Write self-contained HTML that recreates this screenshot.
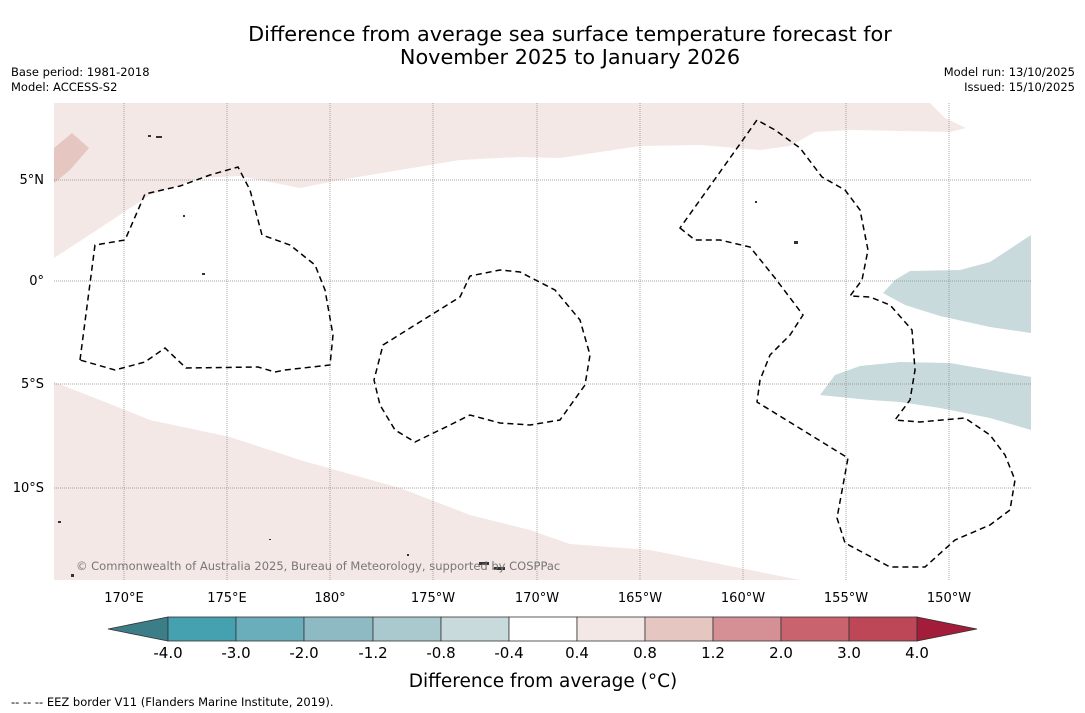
<!DOCTYPE html>
<html><head><meta charset="utf-8"><style>
body{margin:0;background:#fff;font-family:"DejaVu Sans","Liberation Sans",sans-serif}
svg{display:block}
</style></head><body>
<svg width="1085" height="713" viewBox="0 0 1085 713" xmlns="http://www.w3.org/2000/svg">
<text x="570" y="41" text-anchor="middle" font-size="20.8">Difference from average sea surface temperature forecast for</text>
<text x="570" y="64" text-anchor="middle" font-size="20.8">November 2025 to January 2026</text>
<text x="11" y="76" font-size="11.5">Base period: 1981-2018</text>
<text x="11" y="91" font-size="11.5">Model: ACCESS-S2</text>
<text x="1075" y="76" font-size="11.5" text-anchor="end">Model run: 13/10/2025</text>
<text x="1075" y="91" font-size="11.5" text-anchor="end">Issued: 15/10/2025</text>

<g>
<rect x="54" y="103" width="977" height="477" fill="#fff"/>
<path fill="#f4e8e6" d="M54,103 L930,103 L945,118 L966,128 L950,132 L850,130 L815,132 L790,146 L760,150 L700,145 L640,146 L600,152 L560,158 L520,157 L460,160 L400,170 L340,180 L300,188 L240,176 L200,178 L150,195 L100,228 L54,258 Z"/>
<path fill="#e5c6c1" d="M54,148 L72,133 L89,148 L70,170 L54,183 Z"/>
<path fill="#f4e8e6" d="M54,382 L100,400 L150,420 L230,437 L300,460 L400,488 L470,515 L530,530 L570,544 L650,550 L700,560 L760,572 L800,580 L54,580 Z"/>
<path fill="#c8dadc" d="M883,293 L895,280 L910,271 L960,270 L990,262 L1031,235 L1031,333 L990,327 L940,316 L905,305 Z"/>
<path fill="#c8dadc" d="M820,395 L835,375 L860,366 L900,362 L950,363 L1031,377 L1031,430 L990,418 L940,408 L900,402 L870,400 Z"/>
<g stroke="#888" stroke-width="0.7" stroke-dasharray="1,1">
<line x1="124" y1="103" x2="124" y2="580"/><line x1="227" y1="103" x2="227" y2="580"/><line x1="330" y1="103" x2="330" y2="580"/><line x1="433" y1="103" x2="433" y2="580"/><line x1="537" y1="103" x2="537" y2="580"/><line x1="640" y1="103" x2="640" y2="580"/><line x1="743" y1="103" x2="743" y2="580"/><line x1="846" y1="103" x2="846" y2="580"/><line x1="949" y1="103" x2="949" y2="580"/>
<line x1="54" y1="180" x2="1031" y2="180"/><line x1="54" y1="281" x2="1031" y2="281"/><line x1="54" y1="384" x2="1031" y2="384"/><line x1="54" y1="488" x2="1031" y2="488"/>
</g>
<g fill="none" stroke="#000" stroke-width="1.5" stroke-dasharray="6,4">
<path d="M80,360 L95,245 L125,240 L145,194 L180,186 L210,175 L238,167 L250,190 L262,235 L290,245 L315,265 L325,290 L333,335 L330,365 L285,370 L275,372 L258,367 L186,368 L165,348 L145,362 L115,370 Z"/>
<path d="M383,345 L415,325 L460,297 L470,276 L500,270 L520,272 L555,290 L580,320 L590,355 L585,385 L560,420 L530,425 L500,423 L470,415 L450,425 L415,442 L395,430 L380,405 L374,380 Z"/>
<path d="M680,228 L695,240 L720,240 L750,247 L775,278 L803,315 L790,335 L770,355 L760,380 L757,402 L848,458 L837,518 L845,543 L890,567 L925,567 L955,540 L990,525 L1010,510 L1015,480 L1005,455 L990,435 L965,418 L920,422 L895,420 L910,400 L915,370 L912,330 L890,305 L870,297 L850,296 L862,280 L868,250 L860,210 L845,190 L822,177 L800,148 L775,130 L757,120 L730,158 L700,200 Z"/>
</g>
<g fill="#333">
<rect x="148" y="135" width="3" height="2"/><rect x="156" y="136" width="6" height="2"/><rect x="183" y="215" width="2" height="2"/><rect x="202" y="273" width="3" height="2"/><rect x="58" y="521" width="3" height="2"/><rect x="71" y="574" width="3" height="3"/><rect x="479" y="562" width="10" height="3"/><rect x="494" y="567" width="11" height="3"/><rect x="755" y="201" width="2" height="2"/><rect x="794" y="241" width="4" height="3"/><rect x="269" y="539" width="2" height="1"/><rect x="407" y="554" width="2" height="2"/>
</g>
<text x="76" y="570" font-size="11.5" fill="#777">© Commonwealth of Australia 2025, Bureau of Meteorology, supported by COSPPac</text>
</g>

<g font-size="13" text-anchor="end">
<text x="44" y="184">5°N</text><text x="44" y="285">0°</text><text x="44" y="388">5°S</text><text x="44" y="492">10°S</text>
</g>
<g font-size="13" text-anchor="middle">
<text x="124" y="602">170°E</text><text x="227" y="602">175°E</text><text x="330" y="602">180°</text><text x="433" y="602">175°W</text><text x="537" y="602">170°W</text><text x="640" y="602">165°W</text><text x="743" y="602">160°W</text><text x="846" y="602">155°W</text><text x="949" y="602">150°W</text>
</g>

<g stroke="#333" stroke-width="0.8">
<polygon points="108,629 168,617 168,641" fill="#3c7e88"/>
<rect x="168" y="617" width="68" height="24" fill="#45a0b0"/>
<rect x="236" y="617" width="68" height="24" fill="#6aaebb"/>
<rect x="304" y="617" width="69" height="24" fill="#8ebac4"/>
<rect x="373" y="617" width="68" height="24" fill="#aac9ce"/>
<rect x="441" y="617" width="68" height="24" fill="#c8dadc"/>
<rect x="509" y="617" width="68" height="24" fill="#ffffff"/>
<rect x="577" y="617" width="68" height="24" fill="#f4e8e6"/>
<rect x="645" y="617" width="68" height="24" fill="#e5c6c1"/>
<rect x="713" y="617" width="68" height="24" fill="#d49094"/>
<rect x="781" y="617" width="68" height="24" fill="#c9646f"/>
<rect x="849" y="617" width="68" height="24" fill="#bd4657"/>
<polygon points="917,617 977,629 917,641" fill="#a31c3a"/>
</g>
<g font-size="15" text-anchor="middle">
<text x="168" y="658">-4.0</text><text x="236" y="658">-3.0</text><text x="304" y="658">-2.0</text><text x="373" y="658">-1.2</text><text x="441" y="658">-0.8</text><text x="509" y="658">-0.4</text><text x="577" y="658">0.4</text><text x="645" y="658">0.8</text><text x="713" y="658">1.2</text><text x="781" y="658">2.0</text><text x="849" y="658">3.0</text><text x="917" y="658">4.0</text>
</g>
<text x="543" y="687" font-size="18.5" text-anchor="middle">Difference from average (°C)</text>
<text x="11" y="706" font-size="11.5">--  --  -- EEZ border V11 (Flanders Marine Institute, 2019).</text>
</svg>
</body></html>
